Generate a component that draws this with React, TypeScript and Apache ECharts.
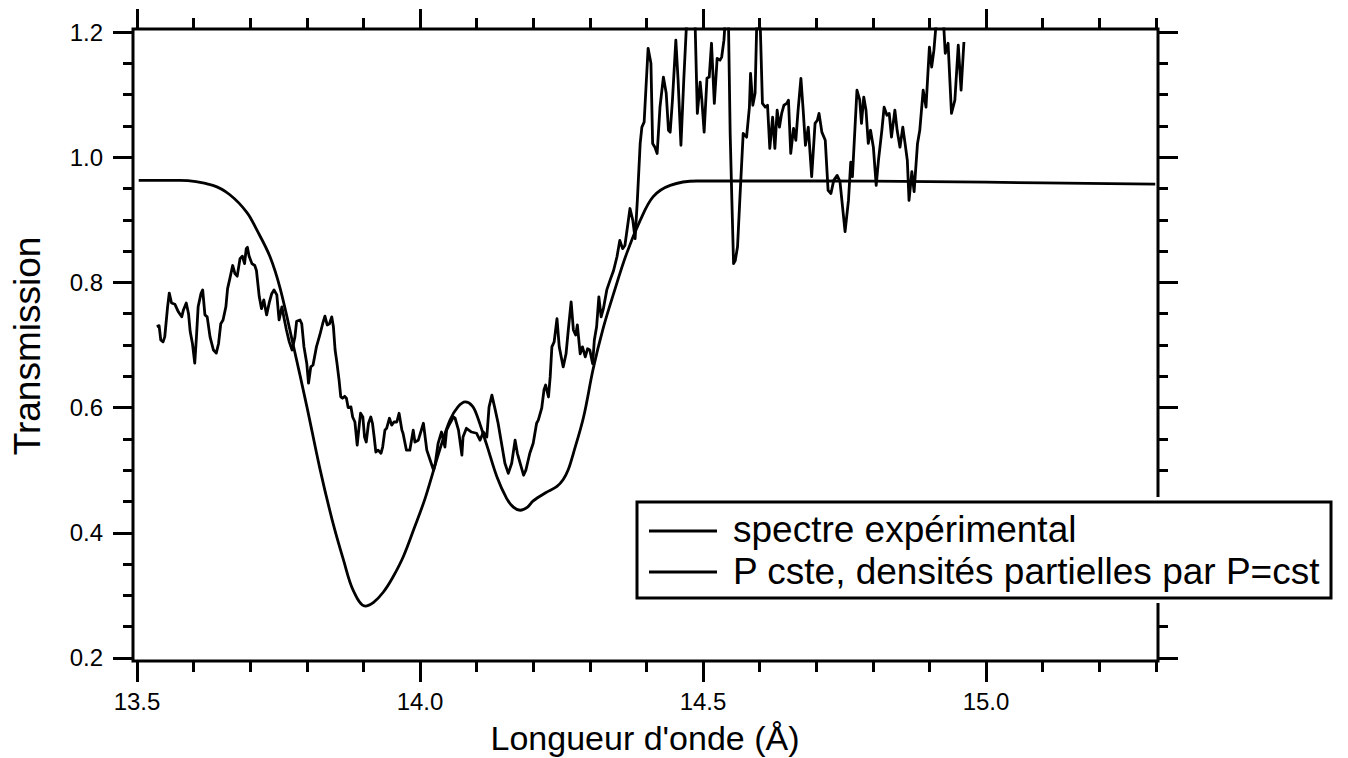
import React, { useEffect, useRef } from "react";
import * as echarts from "echarts";

const seriesNames = ["spectre expérimental", "P cste, densités partielles par P=cst"];
const xTitle = "Longueur d'onde (Å)";
const yTitle = "Transmission";

const xMajorTicks = [13.5, 14.0, 14.5, 15.0];
const xMinorTicks = [13.6, 13.7, 13.8, 13.9, 14.1, 14.2, 14.3, 14.4, 14.6, 14.7, 14.8, 14.9, 15.1, 15.2, 15.3];
const yMajorTicks = [0.2, 0.4, 0.6, 0.8, 1.0, 1.2];
const yMinorTicks = [0.25, 0.3, 0.35, 0.45, 0.5, 0.55, 0.65, 0.7, 0.75, 0.85, 0.9, 0.95, 1.05, 1.1, 1.15];

const expX = [
  13.535, 13.539, 13.542, 13.546, 13.549, 13.554, 13.557, 13.561, 13.567, 13.573, 13.579, 13.582, 13.587, 13.591, 13.594, 13.598,
  13.602, 13.605, 13.608, 13.613, 13.616, 13.62, 13.624, 13.629, 13.635, 13.64, 13.644, 13.648, 13.652, 13.657, 13.66, 13.664,
  13.669, 13.673, 13.677, 13.682, 13.686, 13.69, 13.693, 13.695, 13.698, 13.703, 13.708, 13.711, 13.716, 13.72, 13.724, 13.729,
  13.734, 13.738, 13.742, 13.747, 13.751, 13.756, 13.76, 13.764, 13.769, 13.774, 13.779, 13.782, 13.788, 13.791, 13.795, 13.8,
  13.803, 13.807, 13.811, 13.817, 13.823, 13.828, 13.832, 13.836, 13.84, 13.844, 13.847, 13.85, 13.853, 13.857, 13.86, 13.863,
  13.867, 13.87, 13.873, 13.878, 13.881, 13.885, 13.889, 13.893, 13.895, 13.899, 13.902, 13.905, 13.909, 13.913, 13.916, 13.919,
  13.922, 13.926, 13.931, 13.934, 13.938, 13.941, 13.946, 13.95, 13.954, 13.959, 13.963, 13.968, 13.97, 13.976, 13.982, 13.988,
  13.991, 13.997, 14.006, 14.012, 14.018, 14.024, 14.027, 14.032, 14.038, 14.044, 14.047, 14.053, 14.059, 14.062, 14.068, 14.074,
  14.076, 14.082, 14.091, 14.1, 14.106, 14.112, 14.118, 14.122, 14.127, 14.133, 14.138, 14.144, 14.15, 14.156, 14.162, 14.168,
  14.172, 14.177, 14.183, 14.187, 14.194, 14.2, 14.206, 14.209, 14.215, 14.219, 14.222, 14.227, 14.23, 14.233, 14.237, 14.242,
  14.246, 14.253, 14.258, 14.262, 14.267, 14.271, 14.275, 14.278, 14.283, 14.287, 14.292, 14.296, 14.3, 14.305, 14.308, 14.312,
  14.316, 14.32, 14.324, 14.33, 14.336, 14.342, 14.348, 14.353, 14.358, 14.362, 14.371, 14.376, 14.38, 14.384, 14.389, 14.392,
  14.396, 14.399, 14.403, 14.408, 14.411, 14.415, 14.419, 14.424, 14.43, 14.435, 14.439, 14.442, 14.446, 14.452, 14.456, 14.461,
  14.466, 14.471, 14.486, 14.49, 14.495, 14.498, 14.502, 14.507, 14.511, 14.515, 14.52, 14.525, 14.53, 14.533, 14.537, 14.539,
  14.545, 14.548, 14.551, 14.554, 14.557, 14.561, 14.565, 14.571, 14.577, 14.582, 14.584, 14.588, 14.592, 14.595, 14.601, 14.605,
  14.61, 14.614, 14.618, 14.623, 14.627, 14.631, 14.635, 14.639, 14.643, 14.648, 14.651, 14.655, 14.66, 14.664, 14.668, 14.673,
  14.677, 14.681, 14.686, 14.692, 14.698, 14.702, 14.705, 14.71, 14.716, 14.721, 14.726, 14.731, 14.737, 14.742, 14.751, 14.757,
  14.761, 14.764, 14.772, 14.777, 14.78, 14.784, 14.788, 14.792, 14.796, 14.801, 14.806, 14.81, 14.816, 14.82, 14.825, 14.829,
  14.833, 14.839, 14.843, 14.848, 14.853, 14.857, 14.861, 14.864, 14.869, 14.873, 14.879, 14.883, 14.889, 14.894, 14.9, 14.904,
  14.908, 14.912, 14.925, 14.928, 14.933, 14.939, 14.945, 14.951, 14.956, 14.961,
];
const expY = [
  0.729, 0.731, 0.708, 0.705, 0.713, 0.761, 0.783, 0.767, 0.765, 0.753, 0.745, 0.756, 0.767, 0.75, 0.721, 0.702,
  0.671, 0.713, 0.761, 0.782, 0.788, 0.748, 0.745, 0.713, 0.692, 0.687, 0.702, 0.734, 0.74, 0.761, 0.79, 0.806,
  0.827, 0.814, 0.81, 0.838, 0.842, 0.83, 0.854, 0.856, 0.842, 0.83, 0.827, 0.819, 0.777, 0.758, 0.772, 0.748,
  0.769, 0.782, 0.788, 0.78, 0.74, 0.761, 0.742, 0.724, 0.705, 0.692, 0.713, 0.738, 0.74, 0.734, 0.697, 0.67,
  0.639, 0.665, 0.668, 0.697, 0.716, 0.734, 0.746, 0.732, 0.734, 0.745, 0.729, 0.692, 0.673, 0.644, 0.617, 0.615,
  0.618, 0.615, 0.6, 0.601, 0.585, 0.577, 0.54, 0.575, 0.591, 0.585, 0.553, 0.545, 0.575, 0.585, 0.575, 0.553,
  0.529, 0.532, 0.527, 0.537, 0.564, 0.567, 0.583, 0.572, 0.577, 0.577, 0.591, 0.564, 0.559, 0.532, 0.532, 0.564,
  0.545, 0.548, 0.575, 0.532, 0.516, 0.5, 0.511, 0.543, 0.561, 0.537, 0.564, 0.575, 0.585, 0.583, 0.564, 0.524,
  0.553, 0.567, 0.561, 0.559, 0.548, 0.561, 0.553, 0.601, 0.62, 0.596, 0.575, 0.543, 0.511, 0.495, 0.511, 0.548,
  0.527, 0.511, 0.492, 0.5, 0.527, 0.543, 0.575, 0.58, 0.599, 0.628, 0.636, 0.617, 0.649, 0.697, 0.705, 0.742,
  0.697, 0.665, 0.686, 0.724, 0.769, 0.724, 0.716, 0.732, 0.686, 0.697, 0.681, 0.694, 0.692, 0.67, 0.708, 0.729,
  0.777, 0.745, 0.758, 0.788, 0.804, 0.819, 0.841, 0.867, 0.854, 0.859, 0.918, 0.899, 0.87, 0.931, 1.022, 1.048,
  1.056, 1.107, 1.174, 1.15, 1.022, 1.016, 1.006, 1.08, 1.128, 1.102, 1.043, 1.04, 1.091, 1.187, 1.123, 1.019,
  1.123, 1.215, 1.215, 1.07, 1.12, 1.091, 1.04, 1.126, 1.128, 1.182, 1.086, 1.158, 1.155, 1.16, 1.187, 1.215,
  1.215, 1.038, 0.931, 0.83, 0.835, 0.857, 0.931, 1.038, 1.032, 1.08, 1.134, 1.083, 1.102, 1.215, 1.215, 1.086,
  1.08, 1.083, 1.014, 1.064, 1.014, 1.075, 1.048, 1.07, 1.083, 1.086, 1.091, 1.006, 1.046, 1.027, 1.075, 1.126,
  1.075, 1.019, 1.048, 0.969, 1.054, 1.059, 1.07, 1.04, 1.027, 0.947, 0.942, 0.963, 0.971, 0.961, 0.881, 0.931,
  0.992, 0.969, 1.107, 1.091, 1.054, 1.096, 1.075, 1.022, 1.043, 1.016, 0.955, 0.995, 1.043, 1.08, 1.067, 1.07,
  1.032, 1.075, 1.043, 1.016, 1.048, 1.022, 0.995, 0.931, 0.977, 0.945, 1.022, 1.043, 1.107, 1.08, 1.176, 1.144,
  1.171, 1.215, 1.215, 1.166, 1.182, 1.07, 1.091, 1.179, 1.107, 1.184,
];

const fitX = [
  13.503, 13.576, 13.634, 13.664, 13.694, 13.711, 13.735, 13.753, 13.776, 13.8, 13.823, 13.845, 13.865, 13.882, 13.903, 13.918,
  13.935, 13.952, 13.971, 13.99, 14.009, 14.035, 14.053, 14.067, 14.08, 14.092, 14.1, 14.118, 14.136, 14.153, 14.165, 14.177,
  14.19, 14.2, 14.222, 14.242, 14.253, 14.262, 14.271, 14.289, 14.306, 14.324, 14.342, 14.365, 14.389, 14.412, 14.442, 14.489,
  14.7, 14.9, 15.1, 15.299,
];
const fitY = [
  0.963, 0.963, 0.955, 0.94, 0.912, 0.885, 0.841, 0.79, 0.7, 0.602, 0.503, 0.42, 0.356, 0.308, 0.283, 0.289,
  0.305, 0.329, 0.363, 0.408, 0.455, 0.533, 0.58, 0.601, 0.609, 0.603, 0.589, 0.54, 0.489, 0.455, 0.441, 0.436,
  0.441, 0.451, 0.464, 0.474, 0.485, 0.501, 0.527, 0.585, 0.662, 0.728, 0.782, 0.846, 0.899, 0.937, 0.955, 0.962,
  0.962, 0.961, 0.959, 0.957,
];

const X_MIN = 13.4929;
const X_MAX = 15.3039;
const Y_MIN = 0.1952;
const Y_MAX = 1.2048;
const FONT = "'Liberation Sans', Arial, Helvetica, sans-serif";
const INK = "#000";
const LINE_W = 2.8;
const FRAME_W = 3;

function makeXAxis(position: string, ticks: number[], length: number, labels: boolean) {
  return {
    type: "value",
    position,
    min: X_MIN,
    max: X_MAX,
    axisLine: { show: false, onZero: false },
    splitLine: { show: false },
    axisTick: { show: true, inside: false, length, customValues: ticks, lineStyle: { color: INK, width: FRAME_W } },
    axisLabel: labels
      ? {
          show: true,
          customValues: ticks,
          formatter: (v: number) => v.toFixed(1),
          fontSize: 24,
          lineHeight: 22,
          color: INK,
          fontFamily: FONT,
          margin: 29,
        }
      : { show: false },
  };
}

function makeYAxis(position: string, ticks: number[], length: number, labels: boolean) {
  return {
    type: "value",
    position,
    min: Y_MIN,
    max: Y_MAX,
    axisLine: { show: false, onZero: false },
    splitLine: { show: false },
    axisTick: { show: true, inside: false, length, customValues: ticks, lineStyle: { color: INK, width: FRAME_W } },
    axisLabel: labels
      ? {
          show: true,
          customValues: ticks,
          formatter: (v: number) => v.toFixed(1),
          fontSize: 24,
          color: INK,
          fontFamily: FONT,
          margin: 30,
        }
      : { show: false },
  };
}

function textStyle(text: string, align: string, size: number) {
  return {
    text,
    fontSize: size,
    fontFamily: FONT,
    fill: INK,
    align,
    verticalAlign: "middle",
    textAlign: align,
    textVerticalAlign: "middle",
    lineHeight: 30,
  };
}

export default function App() {
  const ref = useRef<HTMLDivElement>(null);

  useEffect(() => {
    if (!ref.current) return;
    const chart = echarts.init(ref.current, undefined, { renderer: "svg" });
    const expData = expX.map((x, i) => [x, expY[i]]);
    const fitData = fitX.map((x, i) => [x, fitY[i]]);

    chart.setOption({
      animation: false,
      backgroundColor: "#fff",
      grid: {
        left: 133,
        top: 29,
        width: 1025,
        height: 632,
        show: true,
        borderColor: INK,
        borderWidth: FRAME_W,
        backgroundColor: "transparent",
      },
      xAxis: [
        makeXAxis("bottom", xMajorTicks, 21, true),
        makeXAxis("bottom", xMinorTicks, 11, false),
        makeXAxis("top", xMajorTicks, 20, false),
        makeXAxis("top", xMinorTicks, 11, false),
      ],
      yAxis: [
        makeYAxis("left", yMajorTicks, 20, true),
        makeYAxis("left", yMinorTicks, 10, false),
        makeYAxis("right", yMajorTicks, 20, false),
        makeYAxis("right", yMinorTicks, 10, false),
      ],
      series: [
        {
          name: seriesNames[0],
          type: "line",
          xAxisIndex: 0,
          yAxisIndex: 0,
          data: expData,
          showSymbol: false,
          symbol: "none",
          clip: true,
          lineStyle: { color: INK, width: LINE_W, join: "round" },
          z: 3,
        },
        {
          name: seriesNames[1],
          type: "line",
          xAxisIndex: 0,
          yAxisIndex: 0,
          data: fitData,
          showSymbol: false,
          symbol: "none",
          smooth: 0.35,
          clip: true,
          lineStyle: { color: INK, width: LINE_W },
          z: 3,
        },
      ],
      graphic: [
        {
          type: "text",
          x: 27,
          y: 346,
          rotation: Math.PI / 2,
          style: textStyle(yTitle, "center", 37),
        },
        {
          type: "text",
          x: 645,
          y: 738,
          style: textStyle(xTitle, "center", 34),
        },
        {
          type: "rect",
          z: 50,
          shape: { x: 632, y: 497, width: 704, height: 106 },
          style: { fill: "#fff" },
        },
        {
          type: "rect",
          z: 51,
          shape: { x: 637, y: 502, width: 694, height: 96 },
          style: { fill: "#fff", stroke: INK, lineWidth: FRAME_W },
        },
        {
          type: "line",
          z: 52,
          shape: { x1: 649, y1: 531, x2: 717, y2: 531 },
          style: { stroke: INK, lineWidth: LINE_W },
        },
        {
          type: "line",
          z: 52,
          shape: { x1: 649, y1: 572, x2: 717, y2: 572 },
          style: { stroke: INK, lineWidth: LINE_W },
        },
        {
          type: "text",
          z: 52,
          x: 733,
          y: 529,
          style: textStyle(seriesNames[0], "left", 37),
        },
        {
          type: "text",
          z: 52,
          x: 733,
          y: 571,
          style: textStyle(seriesNames[1], "left", 37),
        },
      ],
    });

    return () => chart.dispose();
  }, []);

  return (
    <div
      ref={ref}
      style={{ position: "fixed", left: 0, top: 0, width: 1348, height: 758, background: "#fff" }}
    />
  );
}
